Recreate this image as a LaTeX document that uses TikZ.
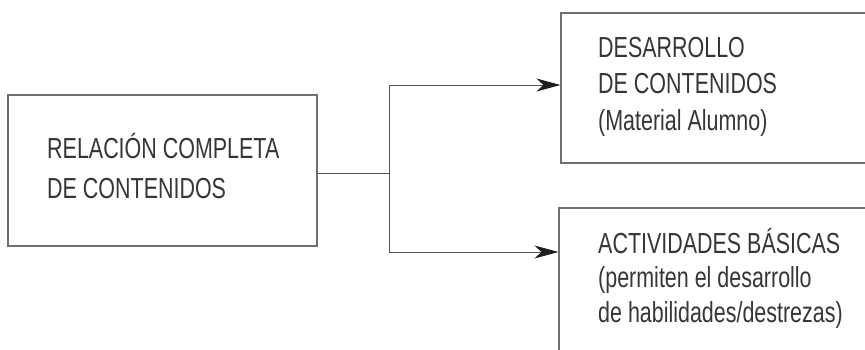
\documentclass[tikz,border=0pt]{standalone}
\usepackage{fontspec}
\setmainfont{Liberation Sans}[FakeStretch=0.74]
\usetikzlibrary{arrows.meta,calc}
\definecolor{boxgray}{HTML}{707070}
\definecolor{linegray}{HTML}{555555}
\definecolor{tipink}{HTML}{1E1E1E}
\definecolor{ink}{HTML}{363636}
\begin{document}
\begin{tikzpicture}[x=1pt,y=1pt,
  box/.style={draw=boxgray, line width=1.1pt, rectangle, inner sep=0pt},
  % base anchor of a multi-line text sits on its last line
  txt/.style={font=\fontsize{29}{#1}\selectfont, text=ink, align=left,
    inner sep=0pt, anchor=base west},
  txt/.default=34.5,
  link/.style={draw=linegray, line width=1pt},
  arrowto/.style={link, -{Stealth[length=24pt, width=13pt, inset=7pt, color=tipink]}}]
\useasboundingbox (0,0) rectangle (865,349);
\clip (0,0) rectangle (865,349);

% boxes
\node[box, minimum width=309pt, minimum height=151pt] (rel) at (162.5,178.5) {};
\node[box, minimum width=339pt, minimum height=150pt] (dev) at (730.5,261) {};
\node[box, minimum width=341pt, minimum height=172pt] (act) at (729.5,55) {};

% box texts
\node[txt=40] (relt) at (47,151) {RELACIÓN COMPLETA\\DE CONTENIDOS};
\node[txt=36.5] (devt) at (598,219) {DESARROLLO\\DE CONTENIDOS\\(Material Alumno)};
\node[txt] (actt) at (598,27) {ACTIVIDADES BÁSICAS\\(permiten el desarrollo\\de habilidades/destrezas)};

% connectors
\coordinate (fork) at (389,176);
\coordinate (upper) at (0,264);
\coordinate (lower) at (0,97);
\draw[link] (rel.east |- fork) -- (fork);
\draw[arrowto] (fork) |- (dev.west |- upper);
\draw[arrowto] (fork) |- (act.west |- lower);
\end{tikzpicture}
\end{document}
